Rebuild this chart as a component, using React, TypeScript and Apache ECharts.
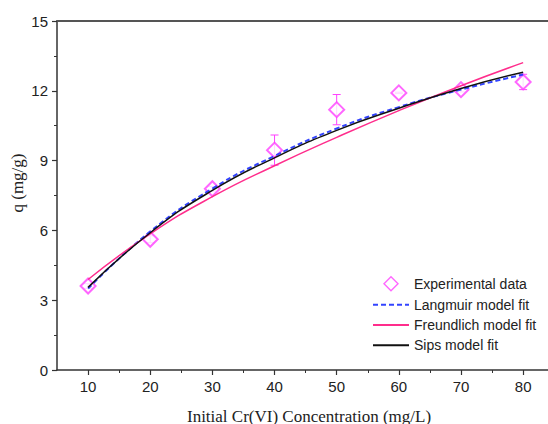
import React, { useEffect, useRef } from "react";
import * as echarts from "echarts";

const concentrations = [10, 20, 30, 40, 50, 60, 70, 80];
const experimental = [3.61, 5.62, 7.79, 9.45, 11.19, 11.91, 12.05, 12.38];
const errorBars = [0.1, 0.15, 0.1, 0.65, 0.65, 0.03, 0.1, 0.33];
const langmuirFit = [3.5, 5.95, 7.8, 9.2, 10.38, 11.3, 12.05, 12.7];
const freundlichFit = [3.89, 5.85, 7.45, 8.78, 10.0, 11.15, 12.22, 13.21];
const sipsFit = [3.55, 5.9, 7.72, 9.12, 10.3, 11.25, 12.1, 12.8];
const xMajorTicks = [10, 20, 30, 40, 50, 60, 70, 80];
const xMinorTicks = [15, 25, 35, 45, 55, 65, 75];
const seriesNames = [
  "Experimental data",
  "Langmuir model fit",
  "Freundlich model fit",
  "Sips model fit",
];
const xTitle = "Initial Cr(VI) Concentration (mg/L)";
const yTitle = "q (mg/g)";

const MAGENTA = "#ff40ff";
const BLUE = "#3344ff";
const PINK = "#ff2d8c";
const BLACK = "#111111";
const AXIS = "#333333";
const SANS = "Liberation Sans, Arial, sans-serif";
const SERIF = "Liberation Serif, Times New Roman, serif";

export default function App() {
  const ref = useRef<HTMLDivElement>(null);

  useEffect(() => {
    if (!ref.current) return;
    const chart = echarts.init(ref.current, null, { renderer: "svg" });
    const pair = (ys: number[]) => concentrations.map((c, i) => [c, ys[i]]);
    const baseX = {
      type: "value",
      min: 5,
      max: 84,
      interval: 5,
      splitLine: { show: false },
    };
    const hiddenSymbol = { opacity: 0 };
    chart.setOption({
      animation: false,
      backgroundColor: "#ffffff",
      grid: { left: 57, right: -6, top: 21, bottom: 54 },
      xAxis: [
        {
          ...baseX,
          position: "bottom",
          axisLine: { onZero: false, lineStyle: { color: AXIS, width: 1.5 } },
          axisTick: {
            customValues: xMajorTicks,
            length: 5,
            lineStyle: { color: AXIS, width: 1.2 },
          },
          axisLabel: {
            customValues: xMajorTicks,
            margin: 9,
            fontSize: 15,
            color: "#222",
            fontFamily: SANS,
          },
        },
        {
          ...baseX,
          position: "bottom",
          axisLine: { show: false },
          axisTick: {
            customValues: xMinorTicks,
            length: 3,
            lineStyle: { color: AXIS, width: 1 },
          },
          axisLabel: { show: false },
        },
        {
          ...baseX,
          position: "top",
          axisLine: { onZero: false, lineStyle: { color: "#555", width: 2 } },
          axisTick: { show: false },
          axisLabel: { show: false },
        },
      ],
      yAxis: {
        type: "value",
        min: 0,
        max: 15,
        interval: 3,
        splitLine: { show: false },
        axisLine: { show: true, onZero: false, lineStyle: { color: AXIS, width: 1.5 } },
        axisTick: { show: true, length: 5, lineStyle: { color: AXIS, width: 1.2 } },
        minorTick: { show: true, splitNumber: 2, length: 3, lineStyle: { color: AXIS, width: 1 } },
        axisLabel: { margin: 9, fontSize: 15, color: "#222", fontFamily: SANS },
      },
      legend: {
        data: [
          {
            name: seriesNames[0],
            icon: "path://M0,-10L10,0L0,10L-10,0Z",
            itemStyle: { color: "#ffffff", borderColor: MAGENTA, borderWidth: 1.4 },
          },
          { name: seriesNames[1], itemStyle: hiddenSymbol },
          { name: seriesNames[2], itemStyle: hiddenSymbol },
          { name: seriesNames[3], itemStyle: hiddenSymbol },
        ],
        orient: "vertical",
        left: 367,
        top: 271,
        itemWidth: 36,
        itemHeight: 14,
        itemGap: 6.3,
        textStyle: { fontSize: 14, color: "#222", fontFamily: SANS },
      },
      graphic: [
        {
          type: "text",
          x: 309,
          y: 416,
          style: {
            text: xTitle,
            font: `17px ${SERIF}`,
            fill: "#222",
            textAlign: "center",
            textVerticalAlign: "middle",
          },
        },
        {
          type: "text",
          x: 17,
          y: 183,
          rotation: Math.PI / 2,
          style: {
            text: yTitle,
            font: `17px ${SERIF}`,
            fill: "#222",
            textAlign: "center",
            textVerticalAlign: "middle",
          },
        },
      ],
      series: [
        {
          type: "custom",
          silent: true,
          data: concentrations.map((c, i) => [
            c,
            experimental[i] - errorBars[i],
            experimental[i] + errorBars[i],
          ]),
          encode: { x: 0, y: [1, 2] },
          renderItem: (params: any, api: any) => {
            const x = api.value(0);
            const top = api.coord([x, api.value(2)]);
            const bot = api.coord([x, api.value(1)]);
            const hw = 4;
            const style = { stroke: MAGENTA, lineWidth: 1 };
            return {
              type: "group",
              children: [
                { type: "line", shape: { x1: top[0], y1: top[1], x2: bot[0], y2: bot[1] }, style },
                { type: "line", shape: { x1: top[0] - hw, y1: top[1], x2: top[0] + hw, y2: top[1] }, style },
                { type: "line", shape: { x1: bot[0] - hw, y1: bot[1], x2: bot[0] + hw, y2: bot[1] }, style },
              ],
            };
          },
        },
        {
          name: seriesNames[0],
          type: "scatter",
          symbol: "emptyDiamond",
          symbolSize: 15,
          itemStyle: { color: MAGENTA, borderColor: MAGENTA, borderWidth: 1.3 },
          data: pair(experimental),
        },
        {
          name: seriesNames[1],
          type: "line",
          smooth: true,
          symbol: "none",
          lineStyle: { color: BLUE, width: 2, type: [5, 3] },
          itemStyle: { color: BLUE },
          data: pair(langmuirFit),
        },
        {
          name: seriesNames[2],
          type: "line",
          smooth: true,
          symbol: "none",
          lineStyle: { color: PINK, width: 1.5 },
          itemStyle: { color: PINK },
          data: pair(freundlichFit),
        },
        {
          name: seriesNames[3],
          type: "line",
          smooth: true,
          symbol: "none",
          lineStyle: { color: BLACK, width: 1.5 },
          itemStyle: { color: BLACK },
          data: pair(sipsFit),
        },
      ],
    });
    return () => chart.dispose();
  }, []);

  return (
    <div
      ref={ref}
      style={{ position: "fixed", left: 0, top: 0, width: 548, height: 424, background: "#fff" }}
    />
  );
}
